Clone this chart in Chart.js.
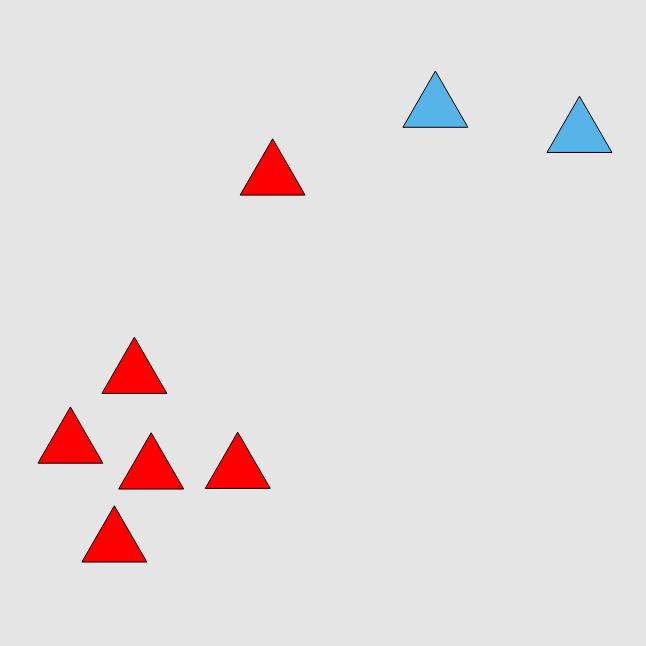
<!DOCTYPE html>
<html>
<head>
<meta charset="utf-8">
<script src="https://cdn.jsdelivr.net/npm/chart.js@4"></script>
<style>
  html, body { margin: 0; padding: 0; background: #e5e5e5; }
  canvas { display: block; }
</style>
</head>
<body>
<canvas id="myChart" width="646" height="646"></canvas>
<script>
// points in plot units (0..100 on both axes)
const redX = [42.2, 20.8, 10.9, 23.4, 36.8, 17.7];
const redY = [72.7, 42.0, 31.2, 27.2, 27.3, 15.9];
const blueX = [67.4, 89.7];
const blueY = [83.2, 79.3];

const toPoints = (xs, ys) => xs.map((x, i) => ({ x: x, y: ys[i] }));

const data = {
    datasets: [{
        label: 'red',
        data: toPoints(redX, redY),
        backgroundColor: 'rgb(255, 0, 0)',
    }, {
        label: 'blue',
        data: toPoints(blueX, blueY),
        backgroundColor: 'rgb(86, 180, 233)',
    }]
};

const config = {
    type: 'scatter',
    data: data,
    options: {
        responsive: false,
        animation: false,
        layout: { padding: 0, autoPadding: false },
        elements: {
            point: {
                pointStyle: 'triangle',
                radius: 37.5,
                hoverRadius: 37.5,
                borderColor: '#000',
                borderWidth: 1,
            }
        },
        scales: {
            x: { type: 'linear', min: 0, max: 100, display: false },
            y: { type: 'linear', min: 0, max: 100, display: false }
        },
        plugins: {
            legend: { display: false },
            tooltip: { enabled: false }
        }
    }
};

const myChart = new Chart(
    document.getElementById('myChart'),
    config
);
</script>
</body>
</html>
